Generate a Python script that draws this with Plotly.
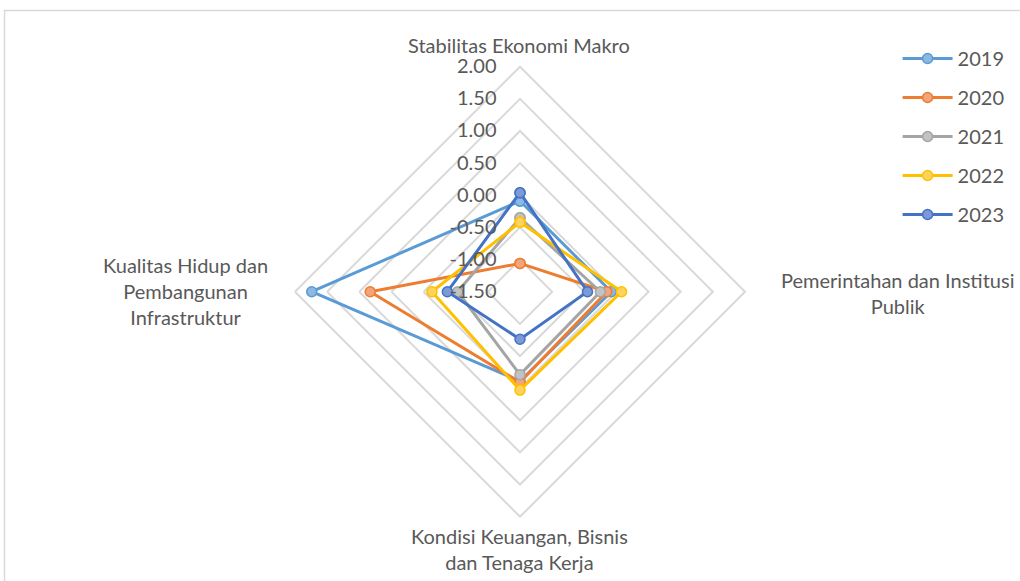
import plotly.graph_objects as go

# Pillars of the index (clockwise from the top)
categories = [
    "Stabilitas Ekonomi Makro",
    "Pemerintahan dan Institusi Publik",
    "Kondisi Keuangan, Bisnis dan Tenaga Kerja",
    "Kualitas Hidup dan Pembangunan Infrastruktur",
]

years = ["2019", "2020", "2021", "2022", "2023"]
values_2019 = [-0.09, -0.08, -0.11, 1.74]
values_2020 = [-1.06, -0.15, -0.09, 0.83]
values_2021 = [-0.35, -0.25, -0.21, -0.53]
values_2022 = [-0.42, 0.08, 0.03, -0.13]
values_2023 = [0.04, -0.45, -0.76, -0.37]
series = [values_2019, values_2020, values_2021, values_2022, values_2023]

tick_values = [-1.5, -1.0, -0.5, 0.0, 0.5, 1.0, 1.5, 2.0]
tick_labels = ["-1.50", "-1.00", "-0.50", "0.00", "0.50", "1.00", "1.50", "2.00"]

line_colors = ["#5B9BD5", "#ED7D31", "#A5A5A5", "#FFC000", "#4472C4"]
fill_colors = ["#8DB8E2", "#F2A47A", "#C2C2C2", "#FFD45C", "#7D9AD6"]

W, H = 1020, 581
CX, CY, R = 520, 291.7, 225

TEXT = "#595959"
GRID = "#D9D9D9"
FONT = "Lato"
FS = 20

fig = go.Figure()
for name, vals, lc, fc in zip(years, series, line_colors, fill_colors):
    fig.add_trace(go.Scatterpolar(
        r=vals + vals[:1],
        theta=categories + categories[:1],
        mode="lines+markers",
        name=name,
        legendgroup=name,
        cliponaxis=False,
        line=dict(color=lc, width=3),
        marker=dict(size=10, color=fc, line=dict(color=lc, width=1.5)),
    ))

fig.update_layout(
    width=W, height=H,
    margin=dict(l=0, r=0, t=0, b=0),
    paper_bgcolor="white",
    plot_bgcolor="white",
    font=dict(family=FONT, color=TEXT, size=FS),
    polar=dict(
        domain=dict(x=[(CX - R) / W, (CX + R) / W],
                    y=[1 - (CY + R) / H, 1 - (CY - R) / H]),
        bgcolor="white",
        gridshape="linear",
        radialaxis=dict(
            range=[-1.5, 2.0],
            tickvals=tick_values,
            ticktext=tick_labels,
            angle=90,
            tickangle=90,
            side="counterclockwise",
            showline=False,
            ticks="outside",
            ticklen=16,
            tickcolor="rgba(0,0,0,0)",
            gridcolor=GRID,
            gridwidth=2,
            tickfont=dict(size=FS, color=TEXT, family=FONT),
        ),
        angularaxis=dict(
            rotation=90,
            direction="clockwise",
            showgrid=False,
            showline=True,
            linecolor=GRID,
            linewidth=2,
            ticks="",
            showticklabels=False,
        ),
    ),
    legend=dict(
        x=0.88, y=1 - 39 / H, xanchor="left", yanchor="top",
        itemwidth=50,
        tracegroupgap=10,
        font=dict(size=FS, color=TEXT, family=FONT),
        bgcolor="rgba(0,0,0,0)",
    ),
    showlegend=True,
)

# Pillar names placed at the outer corners of the grid
label_specs = [
    ("Stabilitas Ekonomi Makro", 519, 45),
    ("Pemerintahan dan Institusi<br>Publik", 897, 293),
    ("Kondisi Keuangan, Bisnis<br>dan Tenaga Kerja", 519, 549),
    ("Kualitas Hidup dan<br>Pembangunan<br>Infrastruktur", 185, 291),
]
for text, px, py in label_specs:
    fig.add_annotation(
        x=px / W, y=1 - py / H, xref="paper", yref="paper",
        text=text, showarrow=False, xanchor="center", yanchor="middle",
        align="center", font=dict(size=FS, color=TEXT, family=FONT),
    )

# Chart frame
fig.add_shape(type="rect", xref="paper", yref="paper",
              x0=4.5 / W, y0=-0.05, x1=1.05, y1=1 - 10.5 / H,
              line=dict(color=GRID, width=1.5), fillcolor="rgba(0,0,0,0)",
              layer="below")

# With a negative radial minimum on a polygonal grid, plotly treats points
# near the centre as outside the plot and hides their markers; show them.
show_points_js = """
var gd = document.getElementById('{plot_id}');
function showPoints() {
  gd.querySelectorAll('.scatterlayer .point').forEach(function (p) {
    p.removeAttribute('display');
    p.style.display = '';
  });
}
showPoints();
gd.on('plotly_afterplot', showPoints);
setTimeout(showPoints, 0);
setTimeout(showPoints, 200);
"""

fig.write_html("out.html", post_script=show_points_js)
